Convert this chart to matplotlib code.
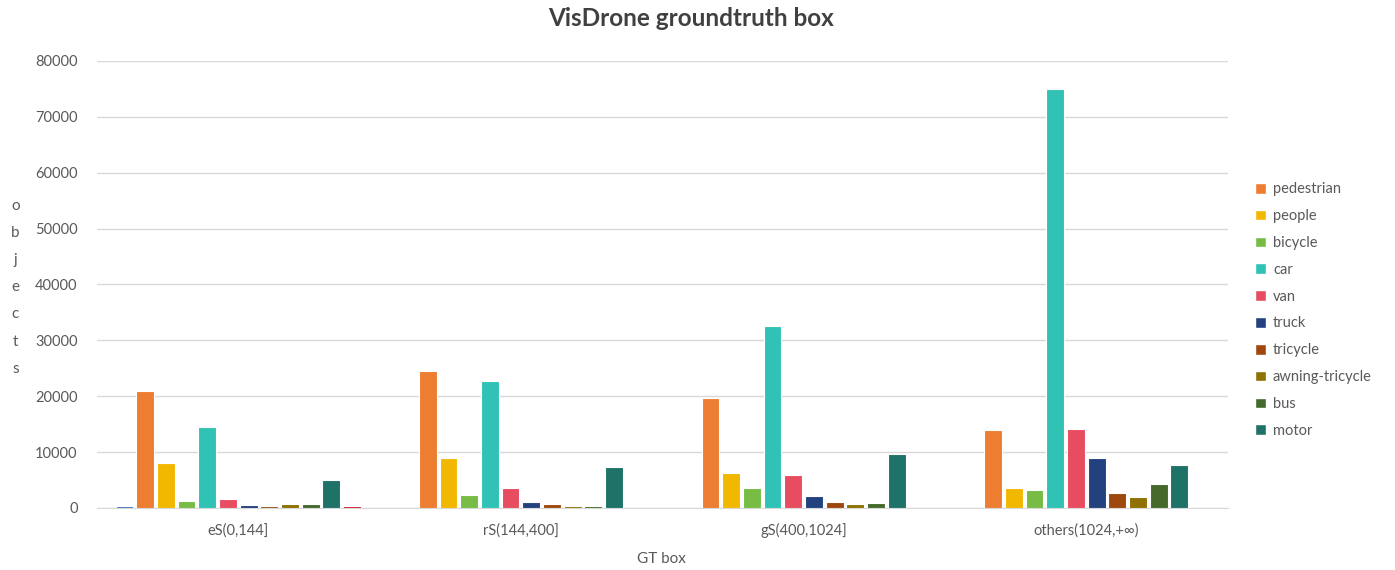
import numpy as np
import matplotlib.pyplot as plt
from matplotlib.patches import Patch

plt.rcParams['font.family'] = ['Lato', 'DejaVu Sans']

categories = ['eS(0,144]', 'rS(144,400]', 'gS(400,1024]', 'others(1024,+∞)']

# 12 series: first and last do not appear in the legend
series = ['ignored', 'pedestrian', 'people', 'bicycle', 'car', 'van', 'truck',
          'tricycle', 'awning-tricycle', 'bus', 'motor', 'others']
colors = ['#4472C4', '#ED7D31', '#F2B800', '#76BC45', '#30C2B4', '#E84C60',
          '#24417F', '#9E480E', '#8F7000', '#44692B', '#1E7268', '#C8202F']

ignored    = [400, 0, 0, 0]
pedestrian = [21000, 24450, 19650, 13950]
people     = [8050, 8900, 6330, 3500]
bicycle    = [1300, 2380, 3500, 3280]
car        = [14450, 22700, 32550, 74900]
van        = [1550, 3500, 5900, 14200]
truck      = [480, 1020, 2150, 8900]
tricycle   = [400, 660, 1070, 2630]
awning     = [660, 420, 660, 1900]
bus        = [650, 420, 890, 4350]
motor      = [5000, 7400, 9600, 7650]
others     = [400, 0, 0, 0]

values = [ignored, pedestrian, people, bicycle, car, van, truck,
          tricycle, awning, bus, motor, others]

fig = plt.figure(figsize=(13.95, 5.7), dpi=100)
ax = fig.add_axes([0.0695, 0.1088, 0.8105, 0.7842])

x = np.arange(len(categories))
pitch = 0.0732
for i, (vals, c) in enumerate(zip(values, colors)):
    ax.bar(x + (i - 5.5) * pitch, vals, width=pitch * 0.86, color=c,
           edgecolor='white', linewidth=0.8, zorder=3)

ax.set_xlim(-0.5, 3.5)
ax.set_ylim(0, 80000)
ax.set_yticks(np.arange(0, 80001, 10000))
ax.set_xticks(x)
ax.set_xticklabels(categories)
ax.grid(axis='y', color='#D9D9D9', linewidth=1, zorder=0)
for s in ['top', 'right', 'left']:
    ax.spines[s].set_visible(False)
ax.spines['bottom'].set_color('#D9D9D9')
ax.tick_params(axis='both', length=0, labelsize=10.5, colors='#595959')
ax.tick_params(axis='x', pad=11)
ax.tick_params(axis='y', pad=14)

fig.text(0.495, 0.968, 'VisDrone groundtruth box', ha='center', va='center',
         fontsize=17.5, fontweight='bold', color='#404040')
fig.text(0.474, 0.02, 'GT box', ha='center', va='center', fontsize=11,
         color='#595959')
fig.text(0.011, 0.496, '\n'.join('objects'), ha='center', va='center',
         fontsize=11, color='#595959', linespacing=2.2)

handles = [Patch(facecolor=colors[i], edgecolor='white', label=series[i])
           for i in range(1, 11)]
fig.legend(handles=handles, loc='center left', bbox_to_anchor=(0.89, 0.456),
           frameon=False, fontsize=10.5, labelcolor='#595959',
           handlelength=0.75, handleheight=0.75, handletextpad=0.5,
           labelspacing=0.88)

fig.savefig('out.png', dpi=100)
